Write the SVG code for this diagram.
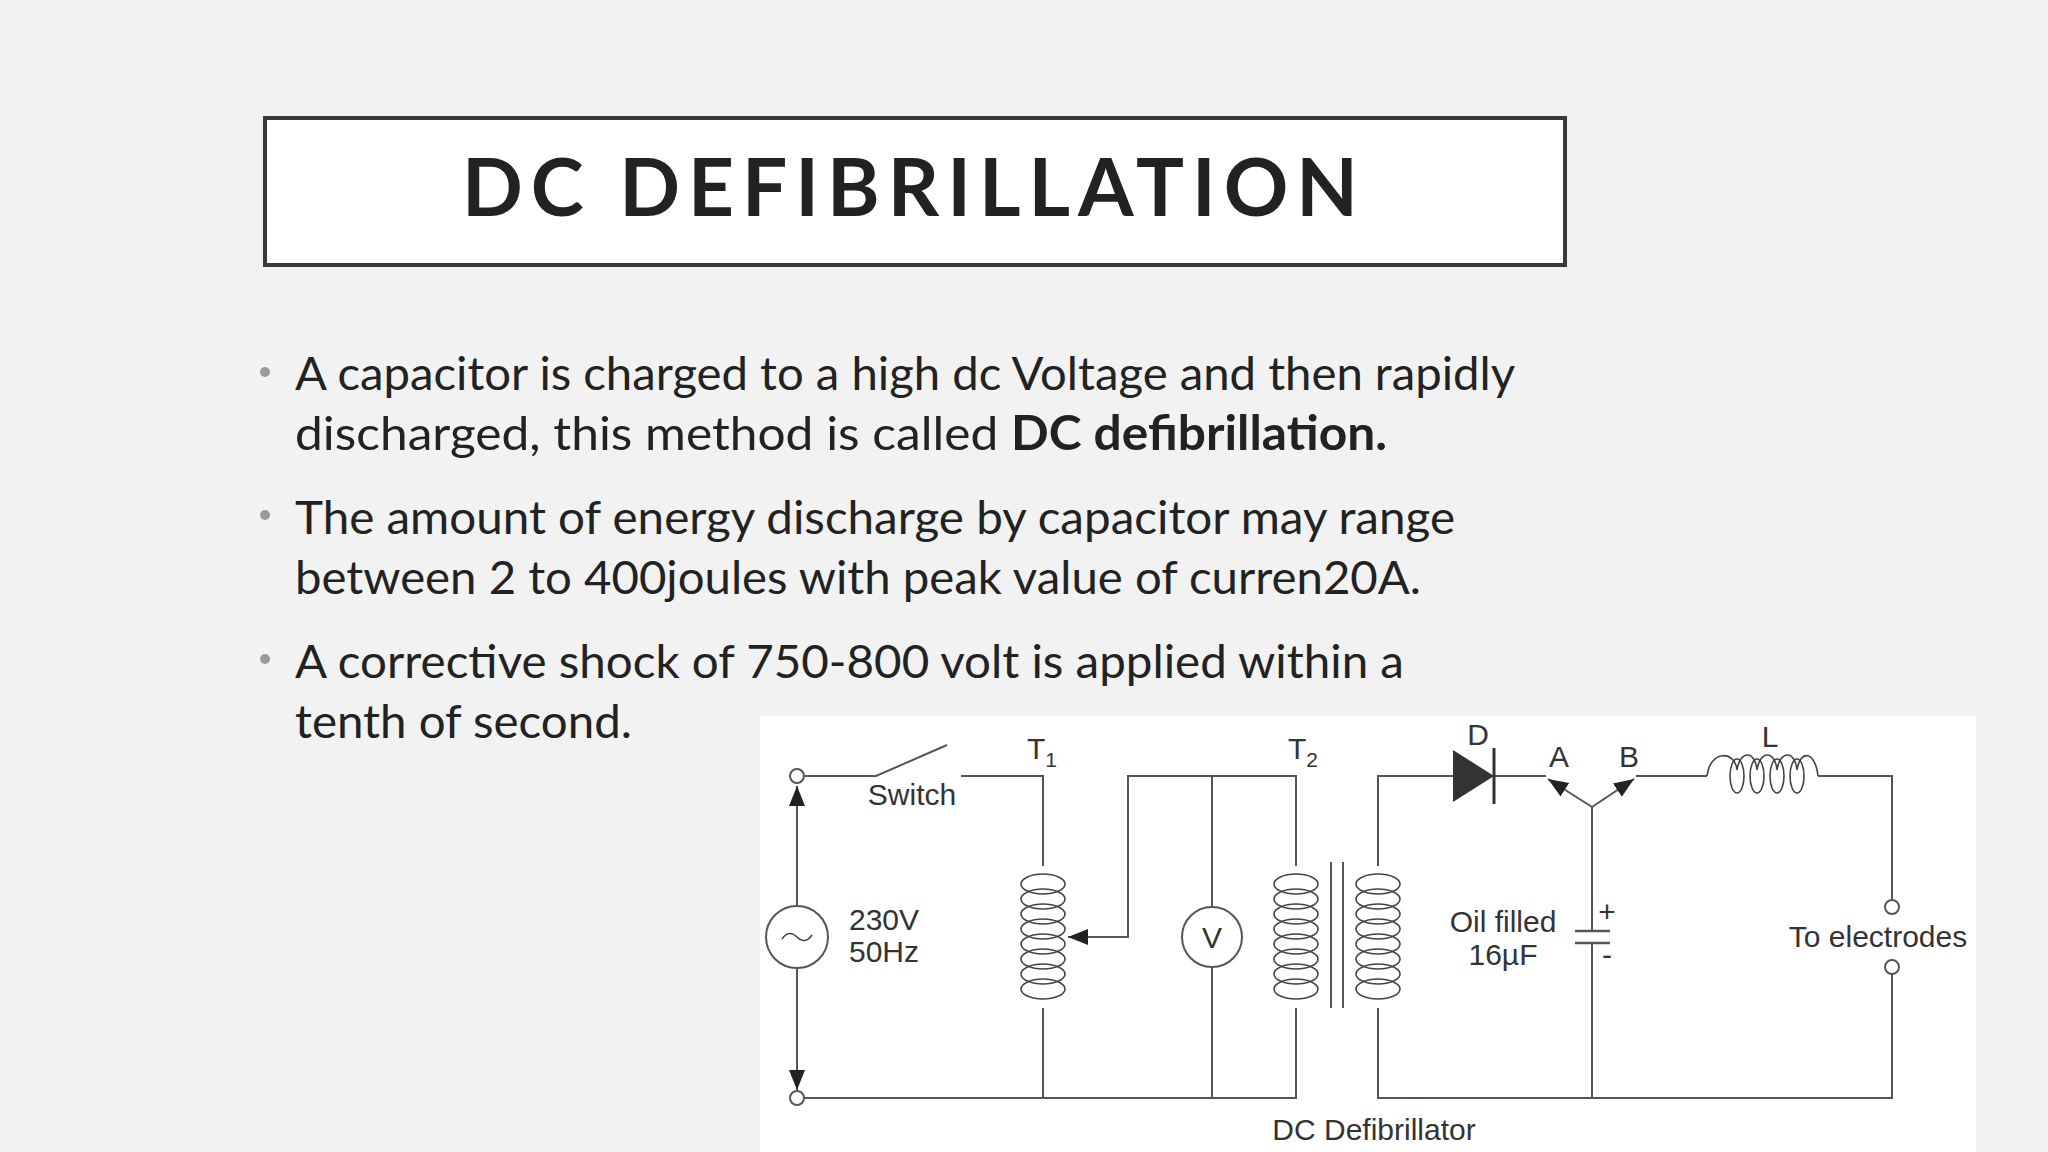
<svg xmlns="http://www.w3.org/2000/svg" width="2048" height="1152" viewBox="0 0 2048 1152">
<style>
.w{fill:none;stroke:#555;stroke-width:2}
.c{fill:none;stroke:#444;stroke-width:1.6}
.t{font-family:"Liberation Sans",Arial,sans-serif;fill:#333;font-size:30px}
.b{font-family:Lato,"Open Sans",sans-serif;fill:#222;font-size:47px}
.dot{fill:#9a9a9a}
</style>
<defs>
<marker id="ah" viewBox="0 0 10 10" refX="10" refY="5" markerWidth="20" markerHeight="20" orient="auto-start-reverse" markerUnits="userSpaceOnUse"><path d="M0,1 L10,5 L0,9 z" fill="#222"/></marker>
<g id="coil">
<ellipse cx="0" cy="0" rx="22" ry="10" class="c"/><ellipse cx="0" cy="15" rx="22" ry="10" class="c"/><ellipse cx="0" cy="30" rx="22" ry="10" class="c"/><ellipse cx="0" cy="45" rx="22" ry="10" class="c"/><ellipse cx="0" cy="60" rx="22" ry="10" class="c"/><ellipse cx="0" cy="75" rx="22" ry="10" class="c"/><ellipse cx="0" cy="90" rx="22" ry="10" class="c"/><ellipse cx="0" cy="105" rx="22" ry="10" class="c"/>
</g>
</defs>
<rect width="2048" height="1152" fill="#f2f2f2"/>
<g id="title">
<rect x="265" y="118" width="1300" height="147" fill="#fff" stroke="#3a3a3a" stroke-width="4"/>
<text x="914" y="216" text-anchor="middle" font-family="Lato,'Open Sans',sans-serif" font-weight="bold" font-size="80" letter-spacing="8" fill="#222">DC DEFIBRILLATION</text>
</g>
<g id="bullets">
<circle class="dot" cx="265" cy="372" r="5"/><circle class="dot" cx="265" cy="515" r="5"/><circle class="dot" cx="265" cy="659" r="5"/>
<text class="b" x="295" y="390" textLength="1220" lengthAdjust="spacingAndGlyphs">A capacitor is charged to a high dc Voltage and then rapidly</text>
<text class="b" x="295" y="450" textLength="1092" lengthAdjust="spacingAndGlyphs">discharged, this method is called <tspan font-weight="bold">DC defibrillation.</tspan></text>
<text class="b" x="295" y="534" textLength="1160" lengthAdjust="spacingAndGlyphs">The amount of energy discharge by capacitor may range</text>
<text class="b" x="295" y="594" textLength="1126" lengthAdjust="spacingAndGlyphs">between 2 to 400joules with peak value of curren20A.</text>
<text class="b" x="295" y="678" textLength="1109" lengthAdjust="spacingAndGlyphs">A corrective shock of 750-800 volt is applied within a</text>
<text class="b" x="295" y="738" textLength="337" lengthAdjust="spacingAndGlyphs">tenth of second.</text>
</g>
<rect x="760" y="716" width="1216" height="436" fill="#fff"/>
<g id="connectors">
<path class="w" d="M804,776 H876 L947,745 M961,776 H1043 V866 M1043,1008 V1098 M797,1098 H1296 V1008 M1296,866 V776 H1128 V937 H1072"/>
<path class="w" d="M1212,776 V907 M1212,967 V1098"/>
<path class="w" d="M797,790 V906 M797,968 V1090" />
<path class="w" d="M797,830 V786" marker-end="url(#ah)"/>
<path class="w" d="M797,1050 V1090" marker-end="url(#ah)"/>
<path class="w" d="M1128,937 H1068" marker-end="url(#ah)"/>
<path class="w" d="M1378,866 V776 H1453 M1494,776 H1546 M1636,776 H1707 M1818,776 H1892 V900 M1892,974 V1098 H1378 V1008"/>
<path class="w" d="M1592,807 L1548,779" marker-end="url(#ah)"/>
<path class="w" d="M1592,807 L1634,779" marker-end="url(#ah)"/>
<path class="w" d="M1592,807 V931 M1592,943 V1098"/>
</g>
<g id="source"><circle cx="797" cy="776" r="7" fill="#fff" stroke="#555" stroke-width="2"/><circle cx="797" cy="1098" r="7" fill="#fff" stroke="#555" stroke-width="2"/>
<circle cx="797" cy="937" r="31" fill="#fff" stroke="#555" stroke-width="2"/><path class="c" d="M782,939 q7,-10 15,-2 t15,-2"/>
<text class="t" x="849" y="930">230V</text><text class="t" x="849" y="962">50Hz</text></g>
<g id="switch"><text class="t" x="912" y="805" text-anchor="middle">Switch</text></g>
<g id="t1"><use href="#coil" x="1043" y="884"/><text class="t" x="1027" y="759">T<tspan font-size="21" dy="8">1</tspan></text></g>
<g id="voltmeter"><circle cx="1212" cy="937" r="30" fill="#fff" stroke="#555" stroke-width="2"/><text class="t" x="1212" y="948" text-anchor="middle">V</text></g>
<g id="t2"><use href="#coil" x="1296" y="884"/><use href="#coil" x="1378" y="884"/>
<path class="w" d="M1331,862 V1008 M1343,862 V1008"/>
<text class="t" x="1288" y="759">T<tspan font-size="21" dy="8">2</tspan></text></g>
<g id="diode"><path d="M1453,750 L1494,776 L1453,802 z" fill="#333"/><path d="M1494,748 V804" stroke="#333" stroke-width="3"/><text class="t" x="1478" y="745" text-anchor="middle">D</text></g>
<g id="ab"><text class="t" x="1559" y="767" text-anchor="middle">A</text><text class="t" x="1629" y="767" text-anchor="middle">B</text></g>
<g id="capacitor"><path d="M1575,931 H1610 M1575,943 H1610" stroke="#555" stroke-width="2.5"/>
<text class="t" x="1607" y="922" text-anchor="middle" font-size="26">+</text><text class="t" x="1607" y="965" text-anchor="middle" font-size="26">-</text>
<text class="t" x="1503" y="932" text-anchor="middle">Oil filled</text><text class="t" x="1503" y="965" text-anchor="middle">16µF</text></g>
<g id="inductor"><path class="c" d="M1707,776 C1710,750 1735,750 1737,770 M1737,770 C1740,750 1755,750 1757,770 M1757,770 C1760,750 1775,750 1777,770 M1777,770 C1780,750 1795,750 1797,770 M1797,770 C1800,750 1815,750 1818,776"/>
<ellipse class="c" cx="1737" cy="776" rx="7" ry="17"/><ellipse class="c" cx="1757" cy="776" rx="7" ry="17"/><ellipse class="c" cx="1777" cy="776" rx="7" ry="17"/><ellipse class="c" cx="1797" cy="776" rx="7" ry="17"/>
<text class="t" x="1770" y="747" text-anchor="middle">L</text></g>
<g id="electrodes"><circle cx="1892" cy="907" r="7" fill="#fff" stroke="#555" stroke-width="2"/><circle cx="1892" cy="967" r="7" fill="#fff" stroke="#555" stroke-width="2"/>
<text class="t" x="1878" y="947" text-anchor="middle">To electrodes</text></g>
<text class="t" x="1374" y="1140" text-anchor="middle">DC Defibrillator</text>
</svg>
